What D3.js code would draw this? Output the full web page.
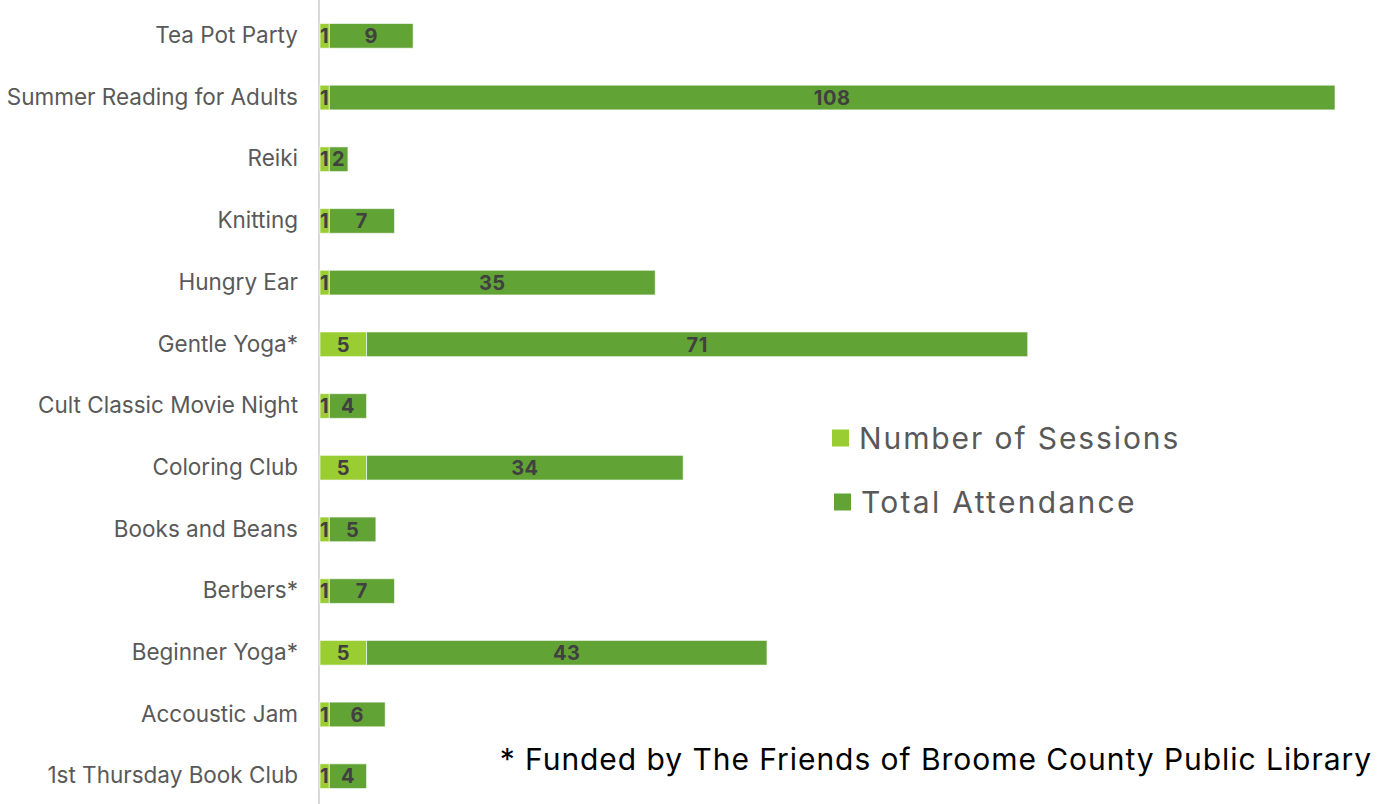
<!DOCTYPE html>
<html>
<head>
<meta charset="utf-8">
<script src="https://cdn.jsdelivr.net/npm/d3@7"></script>
<style>
  html, body { margin: 0; padding: 0; background: #fff; }
  svg { display: block; }
</style>
</head>
<body>
<svg id="chart" width="1390" height="804"></svg>
<script>
// Program names, listed top to bottom
const programs = [
  "Tea Pot Party",
  "Summer Reading for Adults",
  "Reiki",
  "Knitting",
  "Hungry Ear",
  "Gentle Yoga*",
  "Cult Classic Movie Night",
  "Coloring Club",
  "Books and Beans",
  "Berbers*",
  "Beginner Yoga*",
  "Accoustic Jam",
  "1st Thursday Book Club"
];
const sessions   = [1, 1, 1, 1, 1, 5, 1, 5, 1, 1, 5, 1, 1];
const attendance = [9, 108, 2, 7, 35, 71, 4, 34, 5, 7, 43, 6, 4];
const seriesNames = ["Number of Sessions", "Total Attendance"];
const seriesColors = ["#9acd32", "#62a336"];
const footnote = "* Funded by The Friends of Broome County Public Library";

const svg = d3.select("#chart");
const font = "Inter, 'Noto Sans', sans-serif";

const rows = programs.map((p, i) => ({ name: p, s: sessions[i], a: attendance[i] }));

const y = d3.scaleBand()
  .domain(programs)
  .range([5, 807])
  .paddingInner(0.6)
  .paddingOuter(0.3);

const maxTotal = d3.max(rows, d => d.s + d.a);
const x = d3.scaleLinear().domain([0, maxTotal]).range([320, 1335]);

// Category axis
const yAxis = svg.append("g")
  .attr("transform", `translate(${x(0) - 1},0)`)
  .call(d3.axisLeft(y).tickSize(0).tickPadding(21));
yAxis.select(".domain").remove();
yAxis.selectAll("text")
  .attr("font-family", font)
  .attr("font-size", 22.5)
  .attr("fill", "#595959");

svg.append("line")
  .attr("x1", x(0) - 1).attr("x2", x(0) - 1)
  .attr("y1", 0).attr("y2", 804)
  .attr("stroke", "#d9d9d9").attr("stroke-width", 2);

// Stacked bars
const stack = d3.stack().keys(["s", "a"])(rows);
const layers = svg.append("g").selectAll("g")
  .data(stack)
  .join("g")
  .attr("fill", (d, i) => seriesColors[i]);

layers.selectAll("rect")
  .data(d => d)
  .join("rect")
  .attr("x", d => x(d[0]))
  .attr("width", d => x(d[1]) - x(d[0]))
  .attr("y", d => y(d.data.name))
  .attr("height", y.bandwidth())
  .attr("stroke", "#ffffff")
  .attr("stroke-opacity", 0.6)
  .attr("stroke-width", 1);

// Value labels centred in each segment
layers.selectAll("text")
  .data(d => d)
  .join("text")
  .attr("x", d => (x(d[0]) + x(d[1])) / 2)
  .attr("y", d => y(d.data.name) + y.bandwidth() / 2)
  .attr("dy", "0.36em")
  .attr("text-anchor", "middle")
  .attr("font-family", font)
  .attr("font-weight", 700)
  .attr("font-size", 20)
  .attr("letter-spacing", 0.5)
  .attr("fill", "#404040")
  .text(d => d[1] - d[0]);

// Legend
const legend = svg.append("g");
const legendPos = [{ x: 832, y: 438 }, { x: 834, y: 502 }];
seriesNames.forEach((name, i) => {
  const g = legend.append("g").attr("transform", `translate(${legendPos[i].x},${legendPos[i].y})`);
  g.append("rect")
    .attr("x", 0).attr("y", -8.5)
    .attr("width", 17).attr("height", 17)
    .attr("fill", seriesColors[i]);
  g.append("text")
    .attr("x", 27)
    .attr("y", 0)
    .attr("dy", "0.36em")
    .attr("font-family", font)
    .attr("font-size", 30)
    .attr("letter-spacing", i === 0 ? 1.9 : 2.3)
    .attr("fill", "#595959")
    .text(name);
});

// Footnote
svg.append("text")
  .attr("x", 1372)
  .attr("y", 770)
  .attr("text-anchor", "end")
  .attr("font-family", font)
  .attr("font-size", 30)
  .attr("letter-spacing", 0.95)
  .attr("fill", "#000000")
  .text(footnote);
</script>
</body>
</html>
